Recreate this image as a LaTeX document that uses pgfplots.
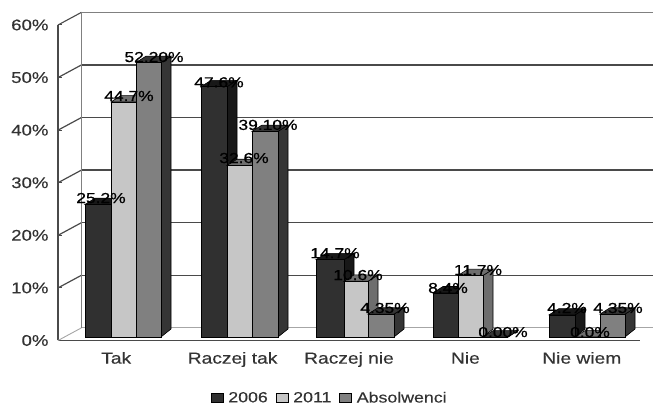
\documentclass[border=0pt]{standalone}
\usepackage{fontspec}
\setmainfont[FakeStretch=1.2,FakeBold=0.25]{Liberation Sans}
\newfontfamily\labfont[FakeStretch=1.2,FakeBold=0.7]{Liberation Sans}
\usepackage{pgfplots}
\pgfplotsset{compat=1.18}
\definecolor{txt}{HTML}{333333}
\definecolor{wall}{HTML}{4a4a4a}
\definecolor{darkf}{HTML}{303030}
\definecolor{darks}{HTML}{181818}
\definecolor{lightf}{HTML}{c6c6c6}
\definecolor{lights}{HTML}{6e6e6e}
\definecolor{midf}{HTML}{808080}
\definecolor{mids}{HTML}{353535}

% one 3D bar: left x, right x, value, front colour, side colour
% x is in picture pixels, base sits 0.67 units above the floor line
\newcommand{\bartd}[5]{%
  \pgfmathsetmacro{\yb}{0.67}%
  \pgfmathsetmacro{\yt}{#3+0.67}%
  \pgfmathsetmacro{\ybb}{0.67+1.52}%
  \pgfmathsetmacro{\ytb}{#3+0.67+1.2}%
  \pgfmathsetmacro{\xl}{#1+10}%
  \pgfmathsetmacro{\xr}{#2+10}%
  \edef\temp{%
    \noexpand\addplot[fill=#5,draw=black,line width=0.6pt,forget plot] coordinates {(#2,\yb)(\xr,\ybb)(\xr,\ytb)(#2,\yt)} -- cycle;
    \noexpand\addplot[fill=#5,draw=black,line width=0.6pt,forget plot] coordinates {(#1,\yt)(\xl,\ytb)(\xr,\ytb)(#2,\yt)} -- cycle;
    \noexpand\addplot[fill=#4,draw=black,line width=0.6pt,forget plot] coordinates {(#1,\yb)(#2,\yb)(#2,\yt)(#1,\yt)} -- cycle;
  }\temp
}

\begin{document}
\begin{tikzpicture}
\useasboundingbox (0,0) rectangle (653pt,406pt);
\begin{axis}[
    at={(58pt,65.5pt)}, anchor=south west,
    scale only axis, width=582pt, height=315.5pt,
    clip=false,
    xmin=58, xmax=640, ymin=0, ymax=60,
    axis x line*=bottom, axis y line*=left,
    axis line style={wall,line width=1.4pt,-},
    tick style={wall,line width=1pt},
    major tick length=4pt,
    xtick={116.2,232.6,349,465.4,581.8},
    xticklabels={Tak,Raczej tak,Raczej nie,Nie,Nie wiem},
    x tick label style={font=\fontsize{16}{18}\selectfont,text=txt,yshift=-8pt},
    xtick style={draw=none},
    minor xtick={58,174.4,290.8,407.2,523.6,640},
    minor tick length=4pt,
    minor x tick style={wall,line width=1pt},
    ytick={0,10,...,60},
    yticklabel={\pgfmathprintnumber{\tick}\%},
    /pgf/number format/assume math mode=true,
    y tick label style={font=\fontsize{15.5}{18}\selectfont,text=txt,xshift=-6pt},
    legend image code/.code={\draw[#1] (0pt,-4.5pt) rectangle (12pt,4.5pt);},
    legend style={at={(0.467,-0.182)},anchor=center,draw=none,fill=none,
      legend columns=-1,font=\fontsize{14.8}{16}\selectfont,text=txt,
      /tikz/every even column/.append style={column sep=6pt},
      /tikz/every odd column/.append style={column sep=3pt}},
  ]

  % back wall and left wall
  \pgfplotsinvokeforeach{10,20,30,40,50}{
    \draw[wall,line width=1.2pt] (axis cs:81.5,#1+2.41) -- (axis cs:653,#1+2.41);
    \draw[wall,line width=1.2pt] (axis cs:58,#1) -- (axis cs:81.5,#1+2.41);
  }
  \draw[gray,line width=1.1pt] (axis cs:81.5,62.41) -- (axis cs:653,62.41);
  \draw[wall,line width=1.1pt] (axis cs:58,60) -- (axis cs:81.5,62.41);
  \draw[gray!70,line width=0.9pt] (axis cs:81.5,2.41) -- (axis cs:653,2.41);
  \draw[gray!70,line width=0.9pt] (axis cs:58,0) -- (axis cs:81.5,2.41);
  \draw[gray,line width=0.9pt] (axis cs:81.5,2.41) -- (axis cs:81.5,62.41);

  % Tak
  \bartd{85}{111}{25.2}{darkf}{darks}
  \bartd{111}{136}{44.7}{lightf}{lights}
  \bartd{136}{161}{52.2}{midf}{mids}
  % Raczej tak
  \bartd{201}{227}{47.6}{darkf}{darks}
  \bartd{227}{252}{32.6}{lightf}{lights}
  \bartd{252}{278}{39.1}{midf}{mids}
  % Raczej nie
  \bartd{316}{344}{14.7}{darkf}{darks}
  \bartd{344}{368}{10.6}{lightf}{lights}
  \bartd{368}{394}{4.35}{midf}{mids}
  % Nie
  \bartd{433}{458}{8.4}{darkf}{darks}
  \bartd{458}{483}{11.7}{lightf}{lights}
  \bartd{483}{508}{0}{midf}{mids}
  % Nie wiem
  \bartd{549}{575}{4.2}{darkf}{darks}
  \bartd{575}{600}{0.01}{lightf}{lights}
  \bartd{600}{625}{4.35}{midf}{mids}

  % data labels
  \addplot[only marks,mark=none,forget plot,nodes near coords,point meta=explicit symbolic,
    every node near coord/.style={anchor=center,inner sep=0pt,text=black,font=\labfont\fontsize{14.5}{16}\selectfont}]
    coordinates {
    (101,27.09)[25.2\%] (129,46.5)[44.7\%] (154,53.9)[52.20\%]
    (219,49.1)[47.6\%] (244,34.7)[32.6\%] (268,41.0)[39.10\%]
    (335,16.6)[14.7\%] (358,12.45)[10.6\%] (385,6.18)[4.35\%]
    (448,9.98)[8.4\%] (478,13.4)[11.7\%] (503,1.6)[0.00\%]
    (567,6.18)[4.2\%] (590,1.6)[0.0\%] (618,6.18)[4.35\%]
  };

  \addlegendimage{fill=darkf,draw=black}
  \addlegendentry{2006}
  \addlegendimage{fill=lightf,draw=black}
  \addlegendentry{2011}
  \addlegendimage{fill=midf,draw=black}
  \addlegendentry{Absolwenci}
\end{axis}
\end{tikzpicture}
\end{document}
